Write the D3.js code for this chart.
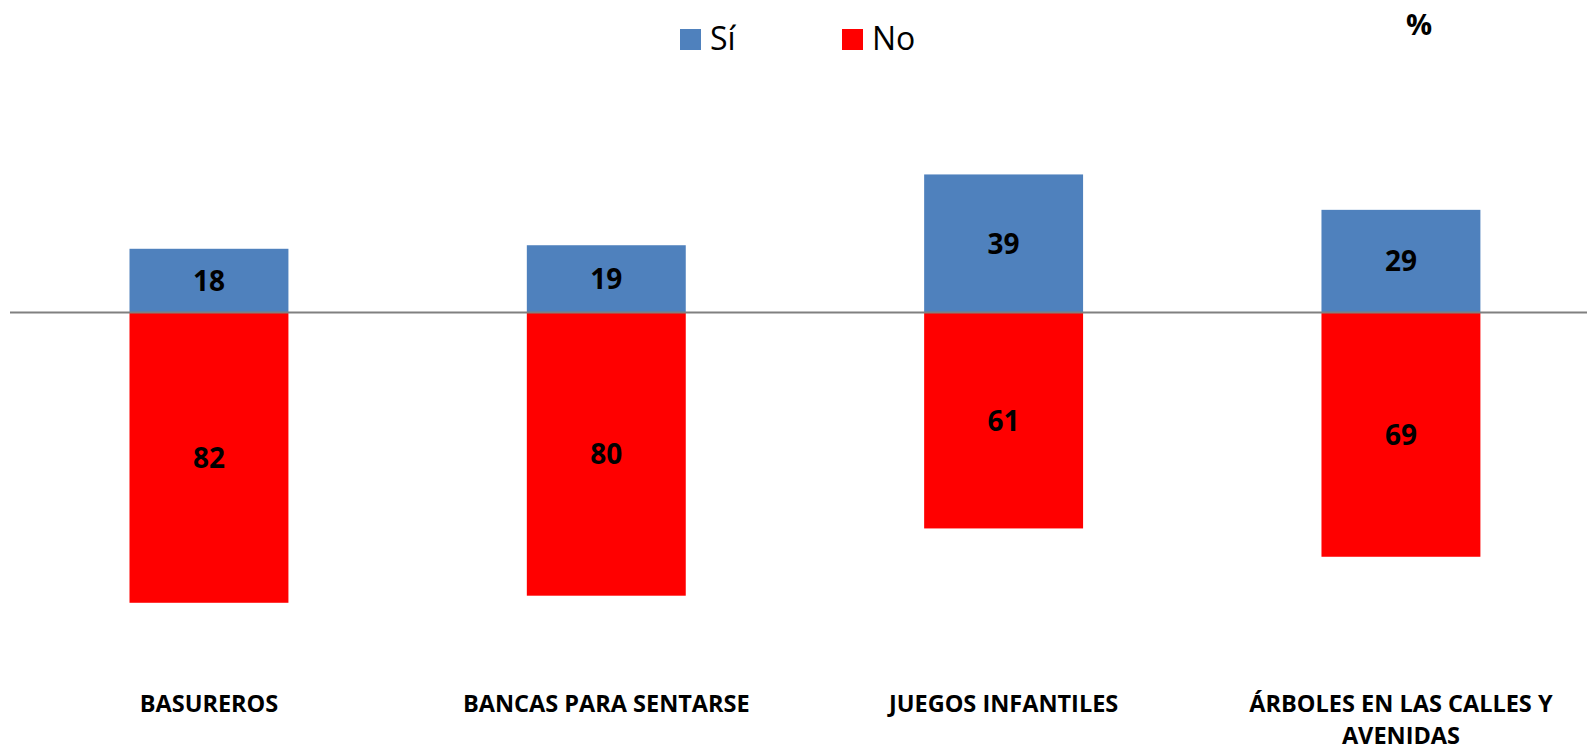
<!DOCTYPE html>
<html><head><meta charset="utf-8">
<script src="https://cdn.jsdelivr.net/npm/d3@7"></script>
<style>body{margin:0;background:#fff}svg{display:block}text{font-family:"Open Sans",sans-serif}</style>
</head><body>
<svg id="c" width="1587" height="751"></svg>
<script>
const categories = ["BASUREROS", "BANCAS PARA SENTARSE", "JUEGOS INFANTILES", "ÁRBOLES EN LAS CALLES Y|AVENIDAS"];
const si = [18, 19, 39, 29];
const no = [82, 80, 61, 69];
const seriesNames = ["Sí", "No"];
const colors = ["#4F81BD", "#FF0000"];

const svg = d3.select("#c");
const baseY = 312.5;
const x = d3.scaleBand().domain(categories).range([10.3, 1599.6]).paddingInner(0.6).paddingOuter(0.3);
const y = d3.scaleLinear().domain([-100, 100]).range([baseY + 354, baseY - 354]);

const g = svg.append("g");
g.selectAll(".si").data(categories).join("rect")
  .attr("x", d => x(d)).attr("width", x.bandwidth())
  .attr("y", (d, i) => y(si[i])).attr("height", (d, i) => y(0) - y(si[i]))
  .attr("fill", colors[0]);
g.selectAll(".no").data(categories).join("rect")
  .attr("x", d => x(d)).attr("width", x.bandwidth())
  .attr("y", y(0)).attr("height", (d, i) => y(-no[i]) - y(0))
  .attr("fill", colors[1]);

svg.append("line").attr("x1", 10).attr("x2", 1587).attr("y1", y(0)).attr("y2", y(0))
  .attr("stroke", "#808080").attr("stroke-width", 2);

g.selectAll(".lsi").data(categories).join("text")
  .attr("x", d => x(d) + x.bandwidth() / 2).attr("y", (d, i) => (y(si[i]) + y(0)) / 2)
  .attr("dy", "0.36em").attr("text-anchor", "middle")
  .attr("font-size", 28).attr("font-weight", 700).attr("fill", "#000")
  .text((d, i) => si[i]);
g.selectAll(".lno").data(categories).join("text")
  .attr("x", d => x(d) + x.bandwidth() / 2).attr("y", (d, i) => (y(-no[i]) + y(0)) / 2)
  .attr("dy", "0.36em").attr("text-anchor", "middle")
  .attr("font-size", 28).attr("font-weight", 700).attr("fill", "#000")
  .text((d, i) => no[i]);

const cl = svg.selectAll(".cat").data(categories).join("text")
  .attr("text-anchor", "middle").attr("font-size", 23.5).attr("font-weight", 700).attr("fill", "#000")
  .attr("transform", d => `translate(${x(d) + x.bandwidth() / 2},712)`);
cl.selectAll("tspan").data(d => d.split("|")).join("tspan")
  .attr("x", 0).attr("dy", (d, i) => i === 0 ? 0 : 32).text(d => d);

const legX = [680, 842];
seriesNames.forEach((s, i) => {
  svg.append("rect").attr("x", legX[i]).attr("y", 29).attr("width", 21).attr("height", 21).attr("fill", colors[i]);
  svg.append("text").attr("x", legX[i] + 30).attr("y", 50).attr("font-size", 32).attr("fill", "#000").text(s);
});
svg.append("text").attr("x", 1419).attr("y", 35).attr("text-anchor", "middle")
  .attr("font-size", 29).attr("font-weight", 700).attr("fill", "#000").text("%");
</script>
</body></html>
